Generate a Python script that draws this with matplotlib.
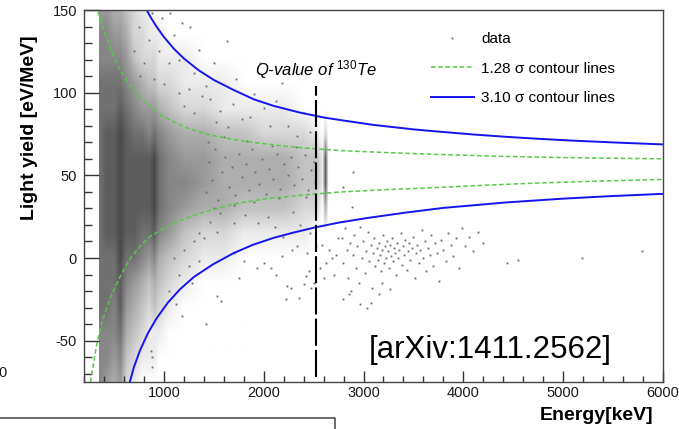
import numpy as np
import matplotlib.pyplot as plt
from matplotlib.colors import LinearSegmentedColormap
from matplotlib.image import NonUniformImage
from matplotlib.lines import Line2D
from matplotlib.patches import Rectangle
from matplotlib.ticker import MultipleLocator

plt.rcParams['font.family'] = ['Liberation Sans', 'DejaVu Sans']
plt.rcParams['mathtext.fontset'] = 'custom'
plt.rcParams['mathtext.rm'] = 'Liberation Sans'
plt.rcParams['mathtext.it'] = 'Liberation Sans:italic'
plt.rcParams['axes.unicode_minus'] = False

# ---- dense part of the scatter, read as darkness 0..9 on a node grid ----
dens_energy = [350, 420, 500, 560, 620, 700, 780, 850, 900, 950, 1050, 1200,
               1400, 1600, 1800, 2000, 2200, 2400, 2530, 2585, 2615, 2645]
dens_ly = [-75, -60, -45, -30, -15, 0, 15, 30, 45, 60, 75, 90, 105, 120, 135, 150]
# one list per energy node, light yield from -75 up to 150
dens_cols = [
    [6, 6, 6, 7, 7, 7, 7, 7, 7, 7, 7, 7, 7, 6, 6, 5],
    [5, 6, 6, 7, 7, 7, 8, 8, 8, 8, 8, 7, 7, 6, 6, 5],
    [4, 5, 6, 6, 7, 7, 8, 8, 8, 8, 8, 7, 7, 6, 5, 4],
    [5, 6, 7, 8, 8, 9, 9, 9, 9, 9, 9, 8, 7, 6, 5, 4],
    [2, 3, 4, 5, 6, 7, 8, 8, 8, 8, 8, 7, 6, 5, 4, 3],
    [1, 2, 3, 4, 5, 7, 8, 8, 8, 8, 7, 6, 5, 3, 2, 2],
    [0, 1, 2, 3, 4, 6, 7, 8, 8, 8, 7, 5, 4, 2, 2, 1],
    [0, 1, 1, 2, 3, 5, 7, 8, 8, 8, 6, 5, 3, 2, 1, 1],
    [0, 1, 1, 3, 4, 6, 8, 9, 9, 9, 7, 5, 3, 2, 1, 0],
    [0, 0, 1, 2, 3, 4, 6, 7, 7, 7, 6, 4, 2, 1, 1, 0],
    [0, 0, 0, 1, 2, 3, 5, 6, 6, 6, 5, 3, 2, 1, 0, 0],
    [0, 0, 0, 0, 1, 2, 3, 5, 6, 5, 4, 2, 1, 1, 0, 0],
    [0, 0, 0, 0, 0, 1, 2, 4, 5, 5, 4, 2, 1, 0, 0, 0],
    [0, 0, 0, 0, 0, 1, 2, 4, 4, 4, 3, 1, 1, 0, 0, 0],
    [0, 0, 0, 0, 0, 0, 1, 3, 4, 4, 3, 1, 0, 0, 0, 0],
    [0, 0, 0, 0, 0, 0, 1, 3, 4, 4, 2, 1, 0, 0, 0, 0],
    [0, 0, 0, 0, 0, 0, 1, 3, 4, 4, 2, 1, 0, 0, 0, 0],
    [0, 0, 0, 0, 0, 0, 1, 2, 3, 3, 2, 0, 0, 0, 0, 0],
    [0, 0, 0, 0, 0, 0, 0, 2, 3, 3, 1, 0, 0, 0, 0, 0],
    [0, 0, 0, 0, 0, 0, 0, 0, 1, 1, 0, 0, 0, 0, 0, 0],
    [0, 0, 0, 0, 0, 0, 0, 4, 8, 8, 2, 0, 0, 0, 0, 0],
    [0, 0, 0, 0, 0, 0, 0, 0, 0, 0, 0, 0, 0, 0, 0, 0],
]

# ---- sparse events (keV, eV/MeV) ----
sparse_e = [
    # above the upper band
    1060, 1100, 1150, 1180, 1260, 1300, 1350, 1420, 1460, 1500, 1560, 1630, 1690, 1720, 1780,
    1860, 1900, 1960, 2060, 2120, 2240, 2330, 2400, 2180, 2460, 1380, 1250, 1520, 1640, 2000,
    700, 750, 800, 850, 900, 950, 980, 760, 880, 1000, 1050, 1150, 1200, 1300,
    # inside the band
    1420, 1450, 1480, 1510, 1540, 1580, 1610, 1650, 1680, 1710, 1750, 1780, 1820, 1850, 1880,
    1910, 1950, 1980, 2020, 2050, 2090, 2130, 2160, 2200, 2240, 2270, 2300, 2340, 2380, 2410,
    2440, 2470, 2500, 2510, 1440, 1600, 1830, 2080, 2320, 1500, 1700, 1900, 2150, 2420,
    # below the lower band
    1530, 1570, 1700, 1800, 1750, 1930, 2000, 2070, 2120, 2180, 2220, 2230, 2270, 2280, 2330,
    2350, 2400, 2420, 2430, 2450, 2470, 2500, 2520,
    1460, 1530, 1560, 1700, 1810, 1940, 2040, 2110, 2190, 2290, 2360, 2460,
    1100, 1150, 1200, 1250, 1300, 1350, 1400, 1050, 1120, 1280, 1180, 1420, 1350,
    880, 885, 870,
    # right of the Q-value line
    2580, 2620, 2650, 2700, 2720, 2740, 2600, 2680, 2560, 2890, 2790, 2880,
    # alpha region
    2780, 2795, 2810, 2830, 2845, 2860, 2875, 2890, 2905, 2920, 2935, 2950, 2965, 2980, 2995,
    3010, 3025, 3040, 3055, 3070, 3085, 3100, 3110, 3120, 3135, 3145, 3155, 3170, 3180, 3190,
    3200, 3210, 3220, 3230, 3240, 3250, 3260, 3270, 3280, 3290, 3300, 3310, 3320, 3330, 3340,
    3350, 3360, 3375, 3385, 3395, 3410, 3420, 3435, 3445, 3460, 3470, 3485, 3500, 3515, 3525,
    3540, 3555, 3570, 3585, 3600, 3615, 3630, 3650, 3665, 3680, 3700, 3720, 3740, 3760, 3780,
    3800, 3830, 3850, 3875, 3900, 3930, 3960, 3990, 4020, 4060, 4100, 4150, 4200,
    2790, 2850, 2960, 3070, 3160, 3270, 3190, 3030,
    4440, 4550, 5190, 5790,
]
sparse_ly = [
    148, 135, 120, 142, 140, 112, 126, 104, 96, 118, 89, 131, 93, 108, 84,
    85, 99, 118, 80, 95, 80, 74, 88, 106, 76, 98, 102, 82, 79, 91,
    125, 140, 118, 132, 108, 125, 145, 110, 148, 105, 118, 100, 92, 88,
    40, 58, 47, 66, 35, 52, 61, 43, 55, 38, 63, 49, 57, 41, 66,
    52, 45, 60, 39, 54, 48, 63, 42, 57, 50, 61, 44, 55, 48, 62,
    41, 53, 58, 46, 70, 73, 71, 68, 67, 30, 32, 34, 36, 37,
    -23, -26, 3, -2, -12, -6, -3, -6, -10, 1, -25, -17, -18, 5, 7,
    -24, -16, -11, 3, -8, -18, -15, 7,
    22, 16, 27, 21, 26, 21, 25, 19, 13, 28, 20, 15,
    0, -10, 5, -5, 10, -2, 12, -20, -28, -15, -35, -40, 15,
    -60, -66, -56,
    8, -3, 5, -10, 2, 12, -12, 0, -6, 52, 43, 31,
    12, -3, 18, 5, -12, 9, -20, 2, 14, -6, 7, -15, 19, 0, 10,
    -9, 4, 16, -2, 8, -18, 3, 12, -5, 6, -1, 9, 2, -8, 5,
    14, -3, 7, 0, 10, 4, -6, 8, 1, 12, -2, 6, 3, -10, 9,
    0, 5, 15, -4, 7, 2, 11, -7, 4, 9, -1, 6, 13, -12, 3,
    8, -3, 5, 17, 0, 10, -8, 6, 2, 14, -5, 9, 3, -14, 11,
    5, -2, 15, 8, 1, 12, -6, 18, 7, 13, 4, 16, 9,
    -25, -22, -28, -27, -22, -19, -15, -30,
    -3, -1, 0, 4,
]

# ---- contour lines ----
green_up_e = [340, 380, 430, 493, 550, 620, 693, 800, 900, 960, 1100, 1227, 1450, 1693,
              1950, 2193, 2460, 2760, 3250, 3760, 4250, 4760, 5400, 6000]
green_up_ly = [149, 141, 132.5, 122.5, 115, 108, 102, 95, 89.8, 86.8, 82.3, 78.8, 74.6, 71.7,
               69.5, 67.7, 66.3, 65, 63.7, 62.6, 61.7, 61, 60.4, 60]
green_lo_e = [265, 300, 327, 370, 430, 493, 560, 660, 760, 860, 1000, 1127, 1360, 1693,
              2027, 2493, 2760, 3250, 3760, 4250, 4760, 5400, 6000]
green_lo_ly = [-75, -62, -52.5, -41, -29.5, -20, -11.5, -0.5, 7, 13, 18, 21.8, 27, 32.6,
               35.9, 38.6, 39.9, 41.4, 42.7, 44.1, 45.4, 46.6, 47.5]
blue_up_e = [827, 870, 920, 1000, 1100, 1200, 1350, 1500, 1693, 1900, 2100, 2360, 2600,
             2760, 3100, 3500, 3760, 4100, 4427, 4750, 5093, 5500, 6000]
blue_up_ly = [150, 145.4, 140.5, 133.7, 126.6, 120.7, 113.5, 107.7, 101.8, 96, 92, 88, 85,
              83.5, 80.5, 77.8, 76.4, 74.7, 73.3, 72.1, 71, 69.9, 68.7]
blue_lo_e = [660, 700, 760, 840, 927, 1040, 1160, 1300, 1493, 1700, 1893, 2100, 2293, 2500,
             2760, 3050, 3427, 3800, 4427, 5000, 5500, 6000]
blue_lo_ly = [-74.8, -66, -56, -45.5, -36.5, -27, -19, -11.5, -3.8, 3, 8, 12.2, 15.3, 18.3,
              21.5, 24.3, 27.5, 30.3, 33.6, 35.9, 37.5, 38.8]

q_value = 2527
q_line_ly = [-72, 104]

W, H = 679, 429
fig = plt.figure(figsize=(W / 100, H / 100), dpi=100)
ax = fig.add_axes([84 / W, 1 - 382 / H, (663 - 84) / W, (382 - 10) / H])

cmap = LinearSegmentedColormap.from_list('dens', ['#ffffff', '#4a4a4a'])
e0, e1 = dens_energy[0], dens_energy[-1]
l0, l1 = dens_ly[0], dens_ly[-1]
im = NonUniformImage(ax, interpolation='bilinear', cmap=cmap, extent=(e0, e1, l0, l1))
im.set_data(dens_energy, dens_ly, np.array(dens_cols, dtype=float).T)
im.set_clim(0, 9)
im.set_zorder(1)
ax.add_image(im)
im.set_clip_path(Rectangle((e0, l0), e1 - e0, l1 - l0, transform=ax.transData))

data_h, = ax.plot(sparse_e, sparse_ly, 's', ms=1.3, mew=0, color='#666666',
                  zorder=2, label='data')

green = '#58c84a'
blue = '#1414f0'
g_h, = ax.plot(green_up_e, green_up_ly, color=green, lw=1.1, ls=(0, (3, 1.7)),
               zorder=3, label=u'1.28 \u03c3 contour lines')
ax.plot(green_lo_e, green_lo_ly, color=green, lw=1.1, ls=(0, (3, 1.7)), zorder=3)
b_h, = ax.plot(blue_up_e, blue_up_ly, color=blue, lw=1.4, zorder=3,
               label=u'3.10 \u03c3 contour lines')
ax.plot(blue_lo_e, blue_lo_ly, color=blue, lw=1.4, zorder=3)

ax.plot([q_value, q_value], q_line_ly, color='black', lw=1.5, ls=(0, (13, 2)), zorder=4)
ax.text(1910, 110.5, r'Q-value of $^{\mathit{130}}$Te', style='italic', fontsize=12,
        va='baseline', ha='left')

ax.set_xlim(200, 6000)
ax.set_ylim(-75, 150)
ax.set_xticks([1000, 2000, 3000, 4000, 5000, 6000])
ax.set_yticks([-50, 0, 50, 100, 150])
ax.xaxis.set_minor_locator(MultipleLocator(200))
ax.yaxis.set_minor_locator(MultipleLocator(10))
ax.tick_params(which='both', direction='in', top=False, right=False,
               color='#333333', labelcolor='#1a1a1a', labelsize=10.5, width=1)
ax.tick_params(axis='y', which='major', length=10.8, pad=5)
ax.tick_params(axis='y', which='minor', length=5.8)
ax.tick_params(axis='x', which='major', length=7.9, pad=3)
ax.tick_params(axis='x', which='minor', length=4.3)
for s in ax.spines.values():
    s.set_color('#444444')
    s.set_linewidth(1)
    s.set_zorder(5)

ax.legend(handles=[data_h, g_h, b_h], loc='upper left', bbox_to_anchor=(0.599, 0.94),
          frameon=False, fontsize=11, handlelength=2.8, handletextpad=0.5,
          labelspacing=1.0, borderpad=0, borderaxespad=0)

fig.text(30 / W, 1 - 128 / H, 'Light yield [eV/MeV]', rotation=90, ha='center',
         va='center', fontsize=14, fontweight='bold')
fig.text(653 / W, 1 - 415 / H, 'Energy[keV]', ha='right', va='center',
         fontsize=14, fontweight='bold')
fig.text(369 / W, 1 - 350 / H, '[arXiv:1411.2562]', ha='left', va='center', fontsize=22.5)

# bits of the neighbouring slide that show in the crop
fig.text(7 / W, 1 - 373 / H, '0', ha='right', va='center', fontsize=10.5, color='#1a1a1a')
fig.add_artist(Line2D([0, 335 / W, 335 / W], [1 - 418 / H, 1 - 418 / H, 0],
                      transform=fig.transFigure, color='#444444', lw=1.1))

fig.savefig('out.png', dpi=100)
